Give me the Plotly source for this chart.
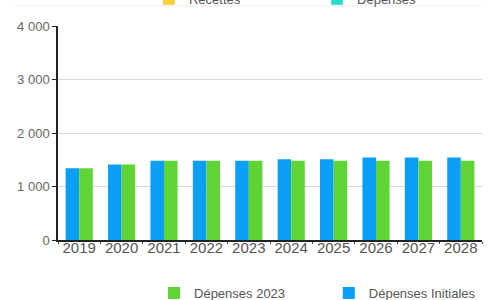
import plotly.graph_objects as go

years = ["2019", "2020", "2021", "2022", "2023", "2024", "2025", "2026", "2027", "2028"]
depenses_initiales = [1340, 1410, 1480, 1480, 1480, 1510, 1510, 1540, 1540, 1540]
depenses_2023 = [1340, 1410, 1480, 1480, 1480, 1480, 1480, 1480, 1480, 1480]

BLUE = "#0a9ef7"
GREEN = "#5fd435"
YELLOW = "#f8d133"
TEAL = "#22dcc8"

fig = go.Figure()
fig.add_trace(go.Bar(x=years, y=depenses_initiales, name="Dépenses Initiales",
                     marker=dict(color=BLUE, line=dict(width=0)), legend="legend3"))
fig.add_trace(go.Bar(x=years, y=depenses_2023, name="Dépenses 2023",
                     marker=dict(color=GREEN, line=dict(width=0)), legend="legend"))
fig.add_trace(go.Bar(x=[None], y=[None], name="Recettes", legend="legend2",
                     xaxis="x2", yaxis="y2", marker=dict(color=YELLOW)))
fig.add_trace(go.Bar(x=[None], y=[None], name="Dépenses", legend="legend4",
                     xaxis="x2", yaxis="y2", marker=dict(color=TEAL)))

def leg(x, y, yref):
    return dict(orientation="h", xref="container", yref=yref,
                x=x, y=y, xanchor="left", yanchor="middle",
                font=dict(size=13, color="#555"), bgcolor="rgba(0,0,0,0)")

fig.update_layout(
    width=490, height=300,
    margin=dict(l=58, r=8, t=26, b=60, autoexpand=False),
    paper_bgcolor="white", plot_bgcolor="white",
    barmode="group", bargap=0.36, bargroupgap=0,
    separators=", ",
    font=dict(family="Liberation Sans, Arial, sans-serif", color="#555"),
    showlegend=True,
    legend=leg(0.3143, 0.0233, "container"),
    legend3=leg(0.671, 0.0233, "container"),
    legend2=leg(0.304, 1.126, "paper"),
    legend4=leg(0.647, 1.126, "paper"),
    xaxis=dict(type="category", showline=True, linecolor="#222", linewidth=1.5,
               ticks="outside", tickson="boundaries", ticklen=2, tickcolor="#444",
               ticklabelstandoff=-7,
               tickfont=dict(size=15, color="#555"), showgrid=False),
    yaxis=dict(range=[0, 4000], tickvals=[0, 1000, 2000, 3000, 4000], tickformat=",",
               showline=True, linecolor="#222", linewidth=1.5,
               ticks="outside", ticklen=4, tickcolor="#222",
               tickfont=dict(size=13, color="#666"),
               gridcolor="#d9d9d9", gridwidth=1, zeroline=False),
    xaxis2=dict(overlaying="x", visible=False),
    yaxis2=dict(overlaying="y", visible=False),
    shapes=[dict(type="line", xref="paper", yref="paper", x0=-0.104, x1=1.0,
                 y0=1.0935, y1=1.0935, line=dict(color="#eeeeee", width=1))],
)

fig.write_html("out.html", config={"displayModeBar": False},
               post_script="document.body.style.margin='0';document.body.style.overflow='hidden';")
